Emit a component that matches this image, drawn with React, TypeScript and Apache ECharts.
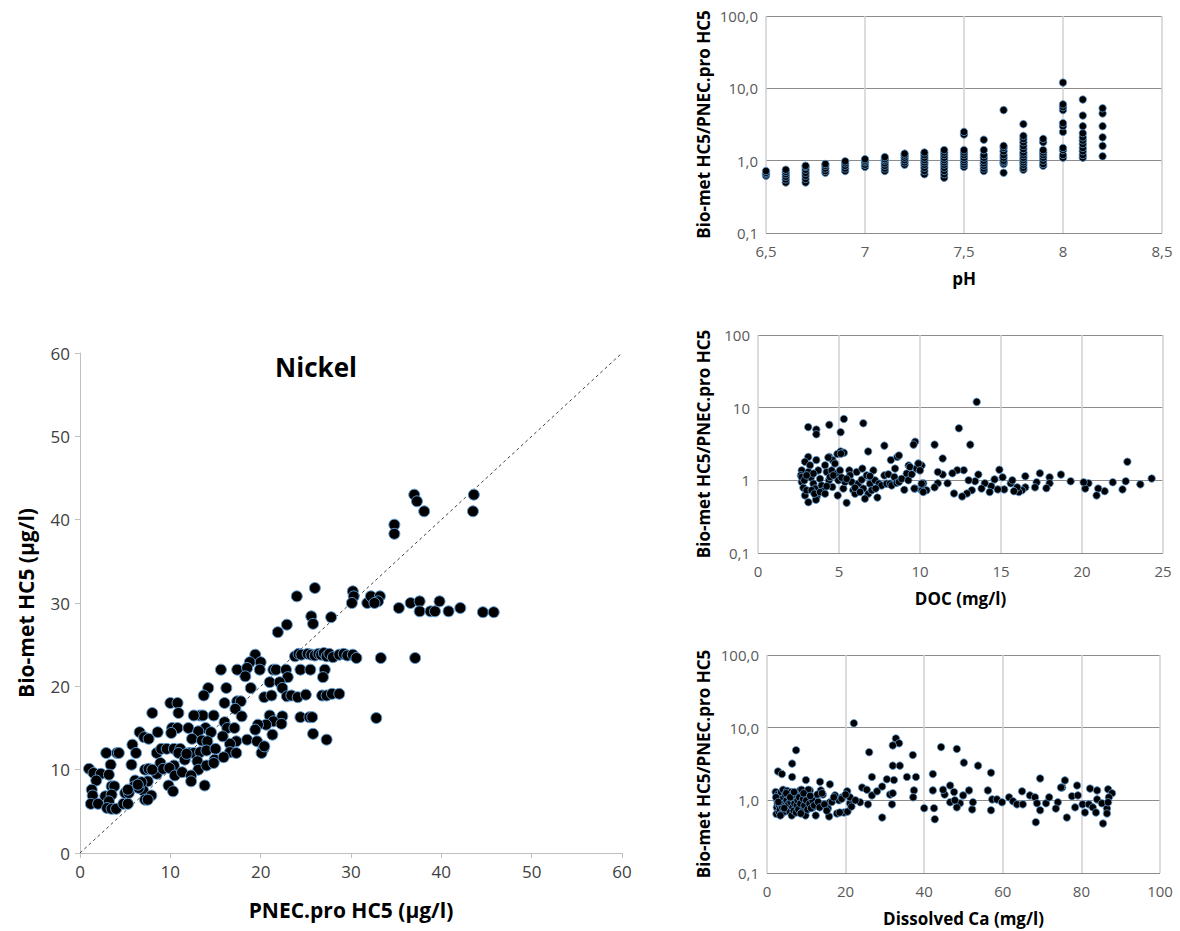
import React, { useEffect, useRef } from 'react';
import * as echarts from 'echarts';

const FONT = '"Open Sans", "Noto Sans", sans-serif';

// Main chart: [PNEC.pro HC5, Bio-met HC5] (µg/l)
const nickelPoints: number[][] = [
  [34.8, 39.4], [34.8, 38.3], [37.0, 43.0], [37.3, 42.2], [38.1, 41.0], [43.6, 43.0], [43.5, 41.0],
  [26.0, 31.8], [24.0, 30.8], [30.2, 31.4], [30.3, 30.8], [30.1, 30.0], [31.8, 30.0], [32.2, 30.8], [33.2, 30.8],
  [33.0, 30.2], [32.6, 30.0], [35.3, 29.4], [36.6, 30.0], [37.6, 30.2], [37.6, 29.0], [38.8, 29.0], [39.3, 29.0],
  [39.8, 30.2], [40.8, 29.0], [42.1, 29.4], [44.6, 28.9], [45.8, 28.9],
  [27.8, 28.3], [25.6, 28.4], [25.8, 27.5], [22.9, 27.4], [21.9, 26.5],
  [23.8, 23.6], [24.2, 23.9], [24.5, 23.8], [25.2, 23.9], [25.6, 23.8], [26.0, 23.7], [26.4, 23.9], [26.7, 23.8],
  [27.0, 24.0], [27.3, 23.6], [27.6, 23.9], [28.0, 23.5], [28.7, 23.8], [29.2, 23.9], [29.6, 23.7], [30.2, 23.8],
  [30.6, 23.4], [33.3, 23.4], [37.1, 23.4],
  [19.4, 23.8], [18.8, 22.9], [20.0, 22.9], [15.6, 22.0], [17.4, 22.0], [18.5, 22.2], [19.9, 22.0], [21.4, 22.0],
  [21.7, 22.0], [22.8, 22.0], [24.4, 22.0], [25.5, 22.0], [27.1, 22.0], [26.9, 21.1], [23.0, 21.1], [18.3, 21.2],
  [21.0, 20.5], [22.1, 20.5], [22.4, 19.8], [18.9, 19.8], [16.2, 19.8], [14.2, 19.8], [13.7, 18.9], [20.4, 18.7],
  [21.2, 18.9], [22.9, 18.8], [23.4, 18.9], [24.1, 18.7], [25.0, 19.0], [26.8, 18.9], [27.3, 18.9], [27.9, 19.1],
  [28.7, 19.1], [16.0, 18.0], [17.4, 18.2], [17.8, 18.2], [17.2, 17.3], [10.0, 18.0], [10.8, 18.0], [8.0, 16.8],
  [10.9, 16.8], [13.3, 16.5], [13.6, 16.5], [12.6, 16.5], [14.8, 16.5], [17.9, 16.4], [21.0, 16.5], [22.4, 16.4],
  [24.4, 16.3], [25.4, 16.3], [25.7, 16.3], [32.8, 16.2], [21.4, 15.8], [22.3, 15.5], [20.6, 15.4], [19.7, 15.4],
  [16.0, 15.7], [16.3, 15.0], [17.1, 15.0], [10.2, 15.0], [10.8, 15.0], [12.0, 15.0], [13.9, 15.0], [13.1, 14.6],
  [6.6, 14.5], [8.6, 14.5], [10.1, 14.4], [14.5, 14.5], [19.4, 14.8], [25.8, 14.3], [21.3, 14.2], [7.1, 13.9],
  [7.6, 13.7], [12.4, 13.7], [13.5, 13.5], [14.1, 13.4], [17.3, 13.4], [16.6, 13.1], [18.5, 13.6], [19.6, 13.4],
  [27.3, 13.6], [5.8, 13.0], [6.2, 12.0], [2.9, 12.0], [4.1, 12.0], [8.5, 12.0], [9.0, 12.5], [9.6, 12.5],
  [10.4, 12.5], [11.1, 12.5], [12.1, 12.0], [12.6, 12.0], [13.3, 12.1], [14.0, 12.3], [15.0, 12.5], [16.6, 12.1],
  [17.3, 12.0], [20.3, 12.5], [20.1, 12.0], [20.4, 12.8], [10.9, 12.0], [11.6, 11.2], [13.0, 11.0], [14.9, 11.2],
  [15.9, 11.5], [3.4, 10.6], [5.7, 10.6], [8.9, 10.8], [10.4, 10.5], [13.1, 10.0], [14.0, 10.5], [14.8, 10.8],
  [1.0, 10.1], [1.5, 9.6], [2.3, 9.5], [3.2, 9.4], [7.2, 10.0], [7.6, 10.1], [8.5, 9.5], [9.2, 10.1],
  [9.9, 10.2], [10.5, 9.3], [11.3, 9.7], [12.3, 9.3], [12.3, 8.6], [7.5, 8.6], [6.1, 8.7], [1.8, 8.7],
  [3.5, 8.0], [3.8, 8.0], [6.0, 8.0], [9.8, 8.1], [10.3, 7.4], [13.8, 8.1], [1.3, 7.6], [2.8, 6.8],
  [3.5, 7.0], [5.0, 7.2], [5.4, 7.2], [7.0, 7.5], [7.9, 6.9], [1.4, 6.9], [3.2, 6.2], [1.2, 5.9],
  [2.0, 5.9], [3.0, 5.4], [3.5, 5.3], [4.0, 5.3], [4.8, 5.9], [5.3, 5.9], [7.2, 6.4], [7.5, 6.4],
  [6.5, 7.8], [6.8, 8.5], [5.3, 7.6], [4.3, 12.0], [6.4, 8.2], [8.0, 10.0], [11.8, 11.9], [15.8, 14.0],
];
const identityLine: number[][] = [[0, 0], [60, 60]];
const mainTicks = [0, 10, 20, 30, 40, 50, 60];

// pH chart: pH levels and the ratios measured at each level
const phLevels = [6.5, 6.6, 6.7, 6.8, 6.9, 7.0, 7.1, 7.2, 7.3, 7.4, 7.5, 7.6, 7.7, 7.8, 7.9, 8.0, 8.1, 8.2];
const phRatios: number[][] = [
  [0.62, 0.65, 0.68, 0.72],
  [0.5, 0.55, 0.6, 0.65, 0.7, 0.75],
  [0.5, 0.56, 0.62, 0.68, 0.75, 0.82, 0.85],
  [0.68, 0.72, 0.78, 0.85, 0.9],
  [0.72, 0.78, 0.85, 0.92, 0.98],
  [0.82, 0.88, 0.95, 1.0, 1.05],
  [0.72, 0.78, 0.85, 0.92, 1.0, 1.05, 1.12],
  [0.88, 0.95, 1.02, 1.1, 1.18, 1.25],
  [0.65, 0.72, 0.8, 0.88, 0.95, 1.02, 1.1, 1.2, 1.3],
  [0.58, 0.65, 0.72, 0.8, 0.88, 0.95, 1.02, 1.1, 1.2, 1.3, 1.4],
  [0.82, 0.88, 0.95, 1.02, 1.1, 1.2, 1.3, 1.4, 2.3, 2.5],
  [0.72, 0.78, 0.85, 0.92, 1.0, 1.1, 1.2, 1.4, 1.95],
  [0.68, 0.9, 0.95, 1.0, 1.1, 1.2, 1.35, 1.5, 1.6, 5.0],
  [0.75, 0.8, 0.88, 0.95, 1.02, 1.1, 1.2, 1.3, 1.45, 1.6, 1.8, 2.0, 2.2, 3.2],
  [0.85, 0.9, 1.0, 1.1, 1.2, 1.3, 1.4, 1.8, 2.0],
  [1.1, 1.2, 1.4, 1.5, 2.5, 3.0, 3.3, 5.0, 5.5, 6.0, 12],
  [1.1, 1.2, 1.35, 1.5, 1.7, 1.9, 2.1, 2.4, 3.0, 4.2, 7.0],
  [1.15, 1.6, 2.1, 3.0, 4.5, 5.3],
];
const phTicks = [6.5, 7, 7.5, 8, 8.5];

// DOC chart: [DOC mg/l, ratio]
const docPoints: number[][] = [
  [3.1, 5.4], [3.6, 5.0], [3.6, 4.3], [4.4, 5.8], [5.3, 7.0], [5.1, 4.6], [6.5, 6.1], [7.8, 3.0], [9.7, 3.4],
  [9.6, 3.1], [6.8, 2.5], [5.1, 2.5], [5.3, 2.4], [4.9, 2.3], [3.1, 2.1], [2.9, 1.8], [3.6, 1.9], [4.4, 2.1],
  [4.6, 1.9], [8.2, 1.9], [8.6, 2.1], [8.7, 2.2], [9.9, 1.7], [9.3, 1.6], [10.1, 1.6],
  [13.5, 12], [12.4, 5.2], [13.1, 3.1], [10.9, 3.1], [11.4, 2.0], [22.8, 1.8], [24.3, 1.06], [23.6, 0.88],
  [22.7, 0.97], [22.5, 0.75], [21.9, 0.94], [21.4, 0.71], [21.0, 0.77], [20.9, 0.62], [20.4, 0.91], [20.2, 0.77],
  [20.1, 0.94], [19.3, 0.97], [18.7, 1.2], [18.0, 1.1], [18.0, 0.91], [17.8, 0.78], [17.4, 1.25], [17.2, 0.94],
  [17.1, 0.8], [16.5, 1.14], [16.5, 0.8], [16.3, 0.73], [16.1, 0.69], [16.0, 0.8], [15.8, 0.71], [15.6, 0.91],
  [15.7, 1.0], [15.2, 0.75], [15.1, 1.1], [14.9, 1.4], [14.8, 0.75], [14.6, 1.03], [14.4, 0.83], [14.3, 0.69],
  [14.0, 0.91], [13.8, 0.77], [13.6, 1.2], [13.4, 0.97], [13.2, 0.73], [13.0, 1.0], [12.9, 0.66], [12.6, 0.6],
  [12.7, 1.38], [12.3, 1.38], [12.1, 0.66], [12.0, 1.25], [11.7, 0.91], [11.4, 1.2], [11.1, 1.3], [11.1, 0.91],
  [10.9, 0.8], [10.4, 0.73], [10.2, 0.91], [10.1, 0.73], [9.7, 0.77],
  [2.7, 1.37], [2.65, 1.17], [2.7, 0.95], [2.8, 0.79], [2.9, 0.62], [3.11, 0.5], [3.0, 0.73], [3.21, 1.61],
  [3.11, 1.3], [3.27, 1.09], [3.42, 0.9], [3.52, 0.77], [3.62, 0.59], [3.58, 0.54], [3.72, 1.37], [3.83, 1.05],
  [3.93, 0.85], [4.03, 0.71], [4.14, 1.61], [4.24, 1.3], [4.34, 2.06], [4.38, 1.0], [4.55, 1.37], [4.59, 0.81],
  [4.75, 1.7], [4.86, 1.24], [4.92, 0.62], [4.96, 1.0], [5.06, 1.37], [5.12, 2.33], [5.27, 0.77], [5.37, 0.95],
  [5.47, 0.49], [5.64, 1.37], [5.68, 1.17], [5.78, 0.95], [5.88, 0.73], [5.99, 0.655], [6.09, 1.3], [6.19, 0.9],
  [6.4, 1.02], [6.44, 1.45], [6.5, 0.77], [6.71, 1.17], [6.81, 0.655], [6.91, 0.9], [7.02, 0.73], [7.12, 1.37],
  [7.22, 1.0], [7.37, 0.58], [7.47, 0.9], [7.63, 0.85], [7.8, 1.17], [7.94, 0.9], [8.05, 1.21], [8.15, 0.9],
  [8.25, 0.85], [8.42, 1.11], [8.46, 1.45], [8.56, 0.92], [8.7, 0.95], [8.87, 1.05], [9.03, 0.74], [9.18, 1.24],
  [9.28, 1.0], [9.38, 1.53], [9.49, 1.21], [9.65, 0.77], [9.79, 1.45], [9.9, 1.7], [10.0, 1.37], [10.1, 0.9],
  [10.2, 0.69], [2.7, 1.11], [2.86, 1.0], [3.31, 0.73], [3.48, 0.655], [3.83, 0.69], [4.14, 0.655], [4.44, 1.11],
  [4.65, 1.17], [5.16, 1.09], [5.47, 1.05], [5.99, 0.79], [6.3, 0.69], [6.6, 0.56], [6.91, 1.14], [7.26, 0.77],
  [4.24, 0.83], [3.42, 1.24], [3.0, 1.17],
];
const docTicks = [0, 5, 10, 15, 20, 25];

// Dissolved Ca chart: [Ca mg/l, ratio]
const caPoints: number[][] = [
  [22.1, 11.5], [32.8, 7.1], [33.6, 6.1], [32.0, 5.7], [26.0, 4.6], [7.4, 4.9], [6.4, 3.2], [2.8, 2.5], [3.8, 2.3],
  [6.4, 2.1], [37.1, 4.2], [32.0, 3.0], [33.8, 3.0], [26.7, 2.1], [35.6, 2.1], [37.9, 2.1], [32.3, 1.9], [30.5, 1.95],
  [42.2, 2.3], [44.3, 5.4], [48.3, 5.1], [9.9, 1.9], [13.5, 1.8], [16.0, 1.66], [24.2, 1.5], [25.4, 1.4], [26.7, 1.17],
  [28.0, 1.33], [29.3, 1.55], [31.3, 1.2], [31.8, 0.88], [32.0, 1.25], [37.4, 1.37], [37.2, 1.1], [29.3, 0.58],
  [23.7, 0.94], [25.7, 0.88], [21.1, 0.91], [21.1, 1.1], [20.4, 1.33], [19.1, 1.1], [18.3, 1.0], [17.3, 1.17],
  [16.0, 0.94], [15.5, 0.77], [15.8, 0.6], [17.8, 0.66], [19.6, 0.68], [14.2, 1.2], [13.7, 1.37], [12.7, 1.0],
  [11.7, 0.8], [10.9, 1.37], [10.4, 1.0], [9.7, 0.66], [8.4, 1.37], [40.0, 0.78], [42.5, 0.78], [42.7, 0.55],
  [42.2, 1.37], [50.1, 3.3], [53.7, 3.0], [57.0, 2.4], [69.5, 2.0], [75.8, 1.88], [75.1, 1.5], [78.9, 1.6],
  [82.2, 1.45], [86.8, 1.42], [87.8, 1.25], [84.0, 1.37], [46.6, 1.6], [47.6, 1.3], [49.9, 1.17], [51.4, 1.37],
  [56.2, 1.37], [57.3, 1.03], [58.5, 1.03], [59.8, 0.94], [61.6, 1.1], [62.6, 0.97], [64.9, 1.33], [63.6, 0.88],
  [65.1, 0.88], [66.9, 1.17], [68.2, 1.1], [68.7, 0.91], [68.4, 0.5], [69.5, 0.73], [71.0, 0.91], [71.8, 1.1],
  [74.0, 0.94], [73.5, 0.77], [74.8, 1.5], [76.3, 0.58], [77.6, 1.14], [78.4, 0.8], [79.1, 1.17], [80.3, 0.88],
  [80.9, 0.68], [81.9, 0.88], [82.9, 0.8], [84.0, 1.03], [83.7, 0.68], [85.2, 0.91], [85.5, 0.48], [86.5, 0.77],
  [86.5, 0.66], [87.0, 1.1], [86.8, 0.94], [52.2, 0.75], [52.4, 0.94], [49.1, 0.91], [48.3, 0.8], [57.0, 0.73],
  [46.6, 0.94], [47.8, 1.0], [45.2, 1.2], [44.8, 1.4],
  [2.2, 1.3], [2.4, 0.65], [2.5, 0.8], [2.6, 1.0], [2.7, 0.9], [2.8, 1.2], [3.0, 0.7], [3.1, 0.85], [3.2, 1.1],
  [3.3, 0.75], [3.5, 0.95], [3.6, 1.3], [3.7, 0.65], [3.9, 0.8], [4.0, 1.05], [4.1, 1.4], [4.3, 0.9], [4.5, 0.7],
  [4.6, 1.2], [4.8, 0.85], [5.0, 1.0], [5.1, 1.35], [5.3, 0.75], [5.5, 0.9], [5.6, 1.15], [5.8, 0.7], [6.0, 0.95],
  [6.1, 1.3], [6.3, 0.62], [6.5, 0.8], [6.6, 1.05], [6.8, 0.72], [7.0, 0.9], [7.2, 1.2], [7.4, 0.68], [7.6, 0.85],
  [7.8, 1.0], [8.0, 0.75], [8.2, 1.1], [8.5, 0.9], [8.8, 1.4], [9.0, 0.7], [9.2, 1.05], [9.5, 0.85], [9.8, 0.62],
  [10.0, 1.0], [10.3, 0.75], [10.5, 1.4], [10.8, 0.9], [11.2, 0.78], [11.6, 1.0], [12.0, 0.85], [12.4, 0.62],
  [12.8, 1.2], [13.0, 0.95], [13.4, 0.8], [14.0, 1.25], [14.6, 0.88], [15.2, 0.72], [16.5, 0.95], [17.0, 1.1],
  [18.5, 0.68], [19.0, 1.05], [20.0, 1.2], [20.5, 0.7], [21.5, 0.82], [22.5, 1.0], [2.3, 1.1], [3.4, 0.62],
  [4.9, 1.25], [5.9, 1.1], [6.9, 1.3], [8.6, 0.66], [9.3, 1.25], [11.0, 1.15], [2.9, 0.95], [4.4, 0.78],
];
const caTicks = [0, 20, 40, 60, 80, 100];

const ratioLabels: Record<string, string> = { '-1': '0,1', '0': '1,0', '1': '10,0', '2': '100,0' };
const docRatioLabels: Record<string, string> = { '-1': '0,1', '0': '1', '1': '10', '2': '100' };

const RIGHT_Y_NAME = 'Bio-met HC5/PNEC.pro HC5';
const MARKER = { color: '#000000', borderColor: '#5b9bd5', borderWidth: 1, opacity: 1 };

function logYAxis(gridIndex: number, labels: Record<string, string>, nameGap: number) {
  return {
    type: 'log', logBase: 10, min: 0.1, max: 100, gridIndex,
    axisLine: { show: false }, axisTick: { show: false },
    axisLabel: {
      color: '#595959', fontSize: 15, fontFamily: FONT, margin: 8,
      formatter: (v: number) => labels[String(Math.round(Math.log10(v)))] ?? '',
    },
    splitLine: { show: true, lineStyle: { color: '#8c8c8c', width: 1 } },
    name: RIGHT_Y_NAME, nameLocation: 'middle', nameGap,
    nameTextStyle: { color: '#000', fontSize: 17, fontWeight: 'bold', fontFamily: FONT },
  };
}

function rightXAxis(gridIndex: number, ticks: number[], name: string, fmt: (v: number) => string) {
  return {
    type: 'value', gridIndex, min: ticks[0], max: ticks[ticks.length - 1], interval: ticks[1] - ticks[0],
    axisLine: { show: false }, axisTick: { show: false },
    axisLabel: { color: '#595959', fontSize: 15, fontFamily: FONT, margin: 10, formatter: fmt },
    splitLine: { show: true, lineStyle: { color: '#d0d0d0', width: 1.5 } },
    name, nameLocation: 'middle', nameGap: 37,
    nameTextStyle: { color: '#000', fontSize: 17, fontWeight: 'bold', fontFamily: FONT },
  };
}

const comma = (v: number) => String(v).replace('.', ',');

const option = {
  animation: false,
  backgroundColor: '#ffffff',
  textStyle: { fontFamily: FONT },
  graphic: [
    {
      type: 'text', x: 316, y: 367,
      style: { text: 'Nickel', fill: '#000', font: `bold 26px ${FONT}`, textAlign: 'center', textVerticalAlign: 'middle' },
    },
  ],
  grid: [
    { left: 80, top: 353, width: 542, height: 500 },
    { left: 766, top: 16, width: 396, height: 217 },
    { left: 758, top: 335, width: 405, height: 218 },
    { left: 767, top: 655, width: 393, height: 218 },
  ],
  xAxis: [
    {
      type: 'value', gridIndex: 0, min: mainTicks[0], max: mainTicks[mainTicks.length - 1], interval: 10,
      axisLine: { show: true, lineStyle: { color: '#bfbfbf' } },
      axisTick: { show: true, length: 5, lineStyle: { color: '#bfbfbf' } },
      axisLabel: { color: '#404040', fontSize: 17, fontFamily: FONT, margin: 10 },
      splitLine: { show: false },
      name: 'PNEC.pro HC5 (µg/l)', nameLocation: 'middle', nameGap: 46,
      nameTextStyle: { color: '#000', fontSize: 21, fontWeight: 'bold', fontFamily: FONT },
    },
    rightXAxis(1, phTicks, 'pH', comma),
    rightXAxis(2, docTicks, 'DOC (mg/l)', comma),
    rightXAxis(3, caTicks, 'Dissolved Ca (mg/l)', comma),
  ],
  yAxis: [
    {
      type: 'value', gridIndex: 0, min: mainTicks[0], max: mainTicks[mainTicks.length - 1], interval: 10,
      axisLine: { show: true, lineStyle: { color: '#bfbfbf' } },
      axisTick: { show: true, length: 5, lineStyle: { color: '#bfbfbf' } },
      axisLabel: { color: '#404040', fontSize: 17, fontFamily: FONT, margin: 10 },
      splitLine: { show: false },
      name: 'Bio-met HC5 (µg/l)', nameLocation: 'middle', nameGap: 44,
      nameTextStyle: { color: '#000', fontSize: 21, fontWeight: 'bold', fontFamily: FONT },
    },
    logYAxis(1, ratioLabels, 54),
    logYAxis(2, docRatioLabels, 46),
    logYAxis(3, ratioLabels, 55),
  ],
  series: [
    {
      type: 'line', xAxisIndex: 0, yAxisIndex: 0, data: identityLine, symbol: 'none',
      lineStyle: { color: '#404040', width: 1, type: [3, 3] }, silent: true, z: 1,
    },
    {
      type: 'scatter', xAxisIndex: 0, yAxisIndex: 0, data: nickelPoints, symbolSize: 11,
      itemStyle: MARKER, z: 2,
    },
    {
      type: 'scatter', xAxisIndex: 1, yAxisIndex: 1, symbolSize: 7.5, itemStyle: { ...MARKER, borderWidth: 0.8 },
      data: phLevels.flatMap((ph, i) => phRatios[i].map((r) => [ph, r])),
    },
    {
      type: 'scatter', xAxisIndex: 2, yAxisIndex: 2, symbolSize: 7.5, itemStyle: { ...MARKER, borderWidth: 0.8 },
      data: docPoints,
    },
    {
      type: 'scatter', xAxisIndex: 3, yAxisIndex: 3, symbolSize: 7.5, itemStyle: { ...MARKER, borderWidth: 0.8 },
      data: caPoints,
    },
  ],
};

export default function App() {
  const ref = useRef<HTMLDivElement>(null);
  useEffect(() => {
    const chart = echarts.init(ref.current!, null, { renderer: 'svg' });
    chart.setOption(option as any);
    return () => chart.dispose();
  }, []);
  return (
    <div
      ref={ref}
      style={{ position: 'absolute', left: 0, top: 0, width: 1180, height: 931, background: '#ffffff' }}
    />
  );
}
